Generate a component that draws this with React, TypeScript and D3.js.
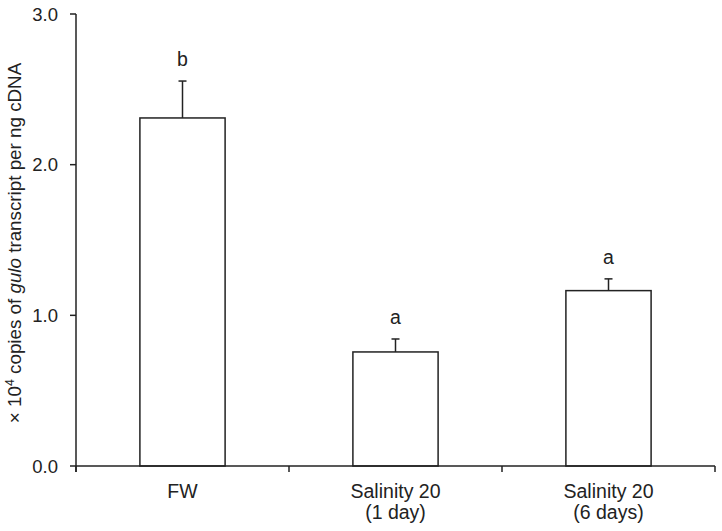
import React from "react";
import * as d3 from "d3";

const categories = ["FW", "Salinity 20\n(1 day)", "Salinity 20\n(6 days)"];
const means = [2.31, 0.757, 1.164];
const errors = [0.245, 0.086, 0.078];
const letters = ["b", "a", "a"];
const yTicks = [0, 1, 2, 3];

const W = 722;
const H = 531;
const margin = { left: 76, right: 7, top: 14, bottom: 65 };
const font = "Arial, 'Liberation Sans', sans-serif";

export default function App() {
  const x = d3
    .scaleBand()
    .domain(categories)
    .range([margin.left, W - margin.right])
    .padding(0);
  const y = d3
    .scaleLinear()
    .domain([0, 3])
    .range([H - margin.bottom, margin.top]);

  const barW = x.bandwidth() * 0.4;
  const y0 = y(0);
  const boundaries = [margin.left, ...categories.map((c) => (x(c) as number) + x.bandwidth())];

  return (
    <svg
      width={W}
      height={H}
      style={{ position: "absolute", left: 0, top: 0, background: "#fff" }}
      fontFamily={font}
    >
      {/* y axis */}
      <line x1={margin.left} x2={margin.left} y1={y(3)} y2={y0 + 6} stroke="#222" strokeWidth={1.5} />
      {yTicks.map((t) => (
        <g key={t}>
          <line x1={margin.left - 6} x2={margin.left} y1={y(t)} y2={y(t)} stroke="#222" strokeWidth={1.5} />
          <text x={margin.left - 18} y={y(t)} dy="0.36em" textAnchor="end" fontSize={18.5} fill="#222">
            {d3.format(".1f")(t)}
          </text>
        </g>
      ))}

      {/* bars */}
      {categories.map((c, i) => {
        const cx = (x(c) as number) + x.bandwidth() / 2;
        const top = y(means[i]);
        const eTop = y(means[i] + errors[i]);
        return (
          <g key={c}>
            <rect x={cx - barW / 2} y={top} width={barW} height={y0 - top} fill="#fff" stroke="#222" strokeWidth={1.5} />
            <line x1={cx} x2={cx} y1={top} y2={eTop} stroke="#222" strokeWidth={1.5} />
            <line x1={cx - 4} x2={cx + 4} y1={eTop} y2={eTop} stroke="#222" strokeWidth={1.5} />
            <text x={cx} y={eTop - 15} textAnchor="middle" fontSize={19.5} fill="#222">
              {letters[i]}
            </text>
            {c.split("\n").map((line, j) => (
              <text key={j} x={cx} y={498 + j * 21} textAnchor="middle" fontSize={19.5} fill="#222">
                {line}
              </text>
            ))}
          </g>
        );
      })}

      {/* x axis */}
      <line x1={margin.left} x2={W - margin.right} y1={y0} y2={y0} stroke="#222" strokeWidth={1.5} />
      {boundaries.map((b, i) => (
        <line key={i} x1={b} x2={b} y1={y0} y2={y0 + 6} stroke="#222" strokeWidth={1.5} />
      ))}

      {/* y label */}
      <text
        transform={`translate(21, 243) rotate(-90)`}
        textAnchor="middle"
        fontSize={18.8}
        fill="#222"
      >
        × 10<tspan baselineShift="super" fontSize={12.5}>4</tspan> copies of{" "}
        <tspan fontStyle="italic">gulo</tspan> transcript per ng cDNA
      </text>
    </svg>
  );
}
